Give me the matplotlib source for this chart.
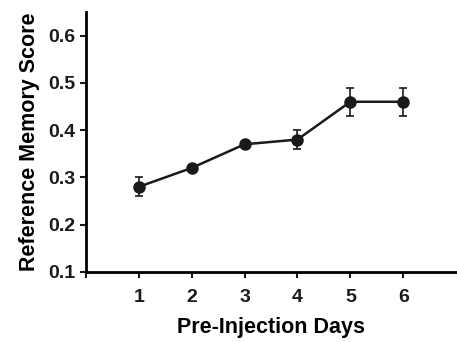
import matplotlib
matplotlib.use('Agg')
import matplotlib.pyplot as plt

days = [1, 2, 3, 4, 5, 6]
score = [0.28, 0.32, 0.37, 0.38, 0.46, 0.46]
err = [0.02, 0.006, 0.007, 0.02, 0.03, 0.03]
yticks = [0.1, 0.2, 0.3, 0.4, 0.5, 0.6]

plt.rcParams['font.family'] = ['Liberation Sans', 'DejaVu Sans']
plt.rcParams['font.weight'] = 'bold'

fig = plt.figure(figsize=(4.57, 3.42), dpi=100)
ax = fig.add_axes([0.188, 0.205, 0.81, 0.76])

ax.errorbar(days, score, yerr=err, color='#1a1a1a', marker='o', markersize=8,
            linewidth=1.8, elinewidth=1.2, capsize=3, capthick=1.2)

ax.set_xlim(0, 7)
ax.set_ylim(0.1, 0.65)
ax.set_xticks([0] + days)
ax.set_xticklabels([''] + [str(d) for d in days])
ax.set_yticks(yticks)
ax.set_yticklabels(['%.1f' % v for v in yticks])

ax.spines['top'].set_visible(False)
ax.spines['right'].set_visible(False)
ax.spines['left'].set_linewidth(2)
ax.spines['bottom'].set_linewidth(2)
ax.tick_params(axis='both', width=1.5, length=4, labelsize=14, colors='#1a1a1a')
ax.tick_params(axis='x', pad=8)

ax.set_xlabel('Pre-Injection Days', fontsize=15.5, fontweight='bold', labelpad=8)
ax.set_ylabel('Reference Memory Score', fontsize=15.5, fontweight='bold', labelpad=6)

fig.savefig('out.png', dpi=100)
